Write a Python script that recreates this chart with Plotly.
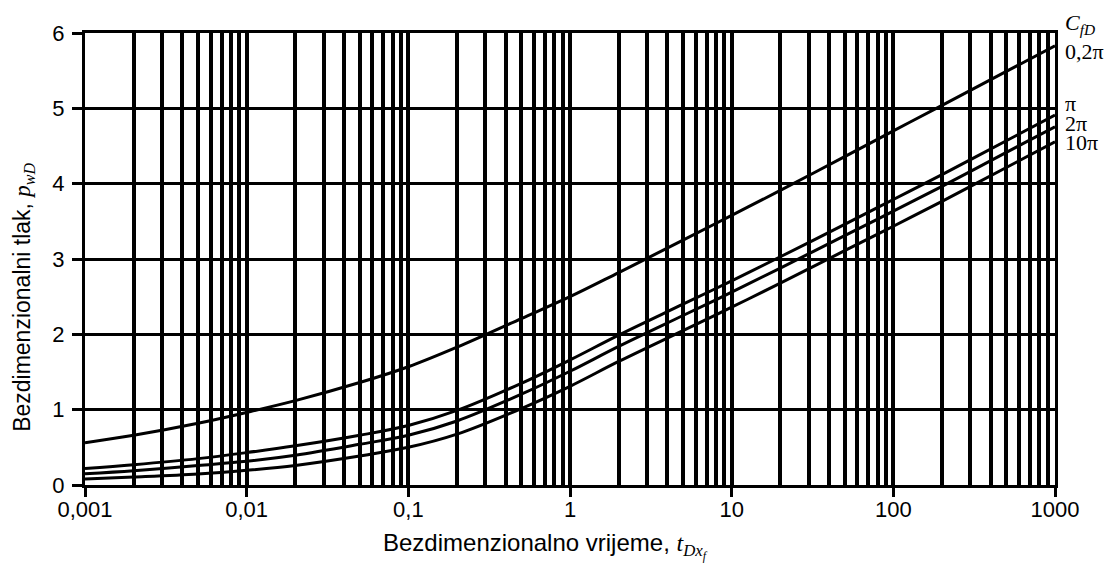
import plotly.graph_objects as go

# dimensionless time t_Dxf
t_values = [0.001, 0.002, 0.005, 0.01, 0.02, 0.05, 0.1, 0.2, 0.5, 1, 2, 5, 10, 20, 50, 100, 200, 500, 1000]

# dimensionless pressure p_wD for each fracture conductivity C_fD
p_cfd_02pi = [0.56, 0.66, 0.82, 0.964, 1.12, 1.36, 1.57, 1.83, 2.21, 2.50, 2.82, 3.25, 3.58, 3.91, 4.36, 4.70, 5.04, 5.49, 5.83]
p_cfd_pi   = [0.22, 0.27, 0.35, 0.43, 0.52, 0.66, 0.79, 0.99, 1.35, 1.66, 1.99, 2.40, 2.71, 3.03, 3.46, 3.79, 4.12, 4.57, 4.91]
p_cfd_2pi  = [0.15, 0.19, 0.26, 0.315, 0.395, 0.54, 0.66, 0.85, 1.205, 1.51, 1.84, 2.25, 2.56, 2.88, 3.31, 3.635, 3.965, 4.415, 4.755]
p_cfd_10pi = [0.08, 0.105, 0.145, 0.195, 0.26, 0.385, 0.50, 0.675, 1.015, 1.31, 1.64, 2.05, 2.36, 2.68, 3.11, 3.435, 3.765, 4.215, 4.555]

series = [p_cfd_02pi, p_cfd_pi, p_cfd_2pi, p_cfd_10pi]
curve_labels = ["0,2π", "π", "2π", "10π"]
label_y = [5.76, 5.07, 4.80, 4.54]
header_label = "<i>C</i><sub><i>fD</i></sub>"
header_y = 6.12
y_max = 6

x_tickvals = [0.001, 0.01, 0.1, 1, 10, 100, 1000]
x_ticktext = ["0,001", "0,01", "0,1", "1", "10", "100", "1000"]
y_tickvals = [0, 1, 2, 3, 4, 5, 6]

x_title = "Bezdimenzionalno vrijeme, <span style=\"font-family:'Liberation Serif'\"><i>t</i><sub><i>Dx<sub>f</sub></i></sub></span>"
y_title = "Bezdimenzionalni tlak, <span style=\"font-family:'Liberation Serif'\"><i>p</i><sub><i>wD</i></sub></span>"

minor_vals = [m * d for d in [0.001, 0.01, 0.1, 1, 10, 100] for m in range(2, 10)]

fig = go.Figure()
for s in series:
    fig.add_trace(go.Scatter(x=t_values, y=s, mode="lines",
                             line=dict(color="black", width=3, shape="spline", smoothing=1.0),
                             showlegend=False, hoverinfo="skip"))

serif = "Liberation Serif"
for lab, yv in zip(curve_labels, label_y):
    fig.add_annotation(x=1, xref="paper", y=yv / y_max, yref="paper", text=lab, showarrow=False,
                       xanchor="left", yanchor="middle", xshift=8,
                       font=dict(family=serif, size=22, color="black"))
fig.add_annotation(x=1, xref="paper", y=header_y / y_max, yref="paper", text=header_label, showarrow=False,
                   xanchor="left", yanchor="middle", xshift=8,
                   font=dict(family=serif, size=22, color="black"))

# axis titles (placed as annotations to match the reference offsets)
fig.add_annotation(x=0.475, xref="paper", y=0, yref="paper", text=x_title, showarrow=False,
                   xanchor="center", yanchor="middle", yshift=-61,
                   font=dict(family="Liberation Sans", size=24, color="black"))
fig.add_annotation(x=0, xref="paper", y=0.414, yref="paper", text=y_title, showarrow=False,
                   textangle=-90, xanchor="center", yanchor="middle", xshift=-61,
                   font=dict(family="Liberation Sans", size=23, color="black"))

fig.update_layout(
    width=1098, height=556,
    margin=dict(l=77, r=51, t=25, b=79),
    paper_bgcolor="white", plot_bgcolor="white",
    font=dict(family="Liberation Sans", size=22, color="black"),
    xaxis=dict(
        type="log", range=[-3, 3], tickvals=x_tickvals, ticktext=x_ticktext,
        showgrid=True, gridcolor="black", gridwidth=3.5,
        minor=dict(tickvals=minor_vals, showgrid=True, gridcolor="black", gridwidth=3.5, ticks=""),
        showline=True, linecolor="black", linewidth=3, mirror=True,
        ticks="outside", ticklen=9, tickwidth=3, tickcolor="black",
        tickfont=dict(size=22), ticklabelstandoff=-6,
        zeroline=False,
    ),
    yaxis=dict(
        range=[0, y_max], tickvals=y_tickvals,
        showgrid=True, gridcolor="black", gridwidth=2.5,
        showline=True, linecolor="black", linewidth=3, mirror=True,
        ticks="outside", ticklen=10, tickwidth=3, tickcolor="black",
        tickfont=dict(size=22), ticklabelstandoff=3,
        zeroline=False,
    ),
)

fig.write_html("out.html")
